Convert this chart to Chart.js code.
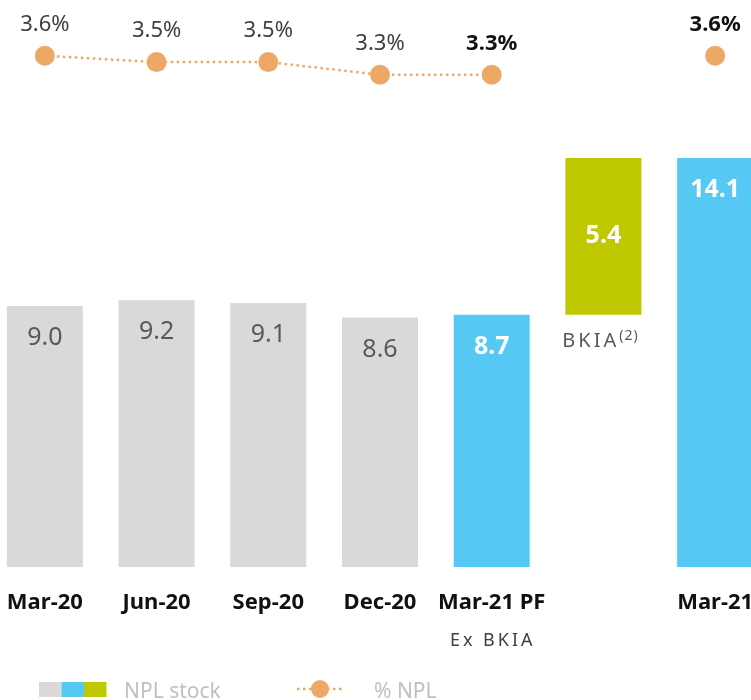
<!DOCTYPE html>
<html>
<head>
<meta charset="utf-8">
<script src="https://cdn.jsdelivr.net/npm/chart.js@4.4.1/dist/chart.umd.min.js"></script>
<style>
html, body { margin: 0; padding: 0; background: #fff; overflow: hidden; }
#wrap { position: relative; width: 782px; height: 700px; margin-left: -11px; }
</style>
</head>
<body>
<div id="wrap"><canvas id="grafica" width="782" height="700"></canvas></div>
<script>
// DATOS
const categorias = ['Mar-20', 'Jun-20', 'Sep-20', 'Dec-20', 'Mar-21 PF', '', 'Mar-21'];
const stockNPL = [9.0, 9.2, 9.1, 8.6, 8.7, 5.4, 14.1];          // bn
const ratioNPL = [3.6, 3.5, 3.5, 3.3, 3.3, null, 3.6];           // %
const ratioNegrita = [false, false, false, false, true, false, true];

// la barra de BKIA flota encima del Mar-21 PF
const barrasFlotantes = stockNPL.map((v, i) => i === 5 ? [stockNPL[4], stockNPL[4] + v] : [0, v]);

const GRIS = '#d9d9d9';
const AZUL = '#55c8f3';
const VERDE = '#bfc800';
const NARANJA = '#eda865';
const coloresBarras = [GRIS, GRIS, GRIS, GRIS, AZUL, VERDE, AZUL];
const FUENTE = '"Noto Sans", "Open Sans", sans-serif';

// ETIQUETAS DE VALORES, NOTAS Y LEYENDA
const etiquetas = {
    id: 'etiquetas',
    afterDatasetsDraw(chart) {
        const ctx = chart.ctx;
        ctx.save();
        ctx.textAlign = 'center';
        ctx.textBaseline = 'middle';

        // valores dentro de las barras
        chart.getDatasetMeta(0).data.forEach((bar, i) => {
            const color = coloresBarras[i];
            if (color === GRIS) {
                ctx.font = '25px ' + FUENTE;
                ctx.fillStyle = '#595959';
            } else {
                ctx.font = 'bold 25px ' + FUENTE;
                ctx.fillStyle = '#ffffff';
            }
            const y = color === VERDE ? (bar.y + bar.base) / 2 : bar.y + 32;
            ctx.fillText(stockNPL[i].toFixed(1), bar.x, y);
        });

        // porcentajes encima de los puntos
        chart.getDatasetMeta(1).data.forEach((pt, i) => {
            if (ratioNPL[i] === null) return;
            ctx.font = (ratioNegrita[i] ? 'bold ' : '') + '22px ' + FUENTE;
            ctx.fillStyle = ratioNegrita[i] ? '#111111' : '#404040';
            ctx.fillText(ratioNPL[i].toFixed(1) + '%', pt.x, pt.y - 31);
        });

        // notas debajo de Mar-21 PF y de la barra BKIA
        const x = chart.scales.x;
        ctx.letterSpacing = '3px';
        ctx.font = '18px ' + FUENTE;
        ctx.fillStyle = '#404040';
        ctx.fillText('Ex BKIA', x.getPixelForValue(4) + 1, 641);

        const bkia = chart.getDatasetMeta(0).data[5];
        ctx.letterSpacing = '3px';
        ctx.font = '20px ' + FUENTE;
        ctx.fillStyle = '#595959';
        const w1 = ctx.measureText('BKIA').width;
        ctx.font = '14px ' + FUENTE;
        const w2 = ctx.measureText('(2)').width;
        const x0 = bkia.x - (w1 + w2) / 2;
        ctx.textAlign = 'left';
        ctx.font = '20px ' + FUENTE;
        ctx.fillText('BKIA', x0, bkia.base + 27);
        ctx.font = '14px ' + FUENTE;
        ctx.letterSpacing = '1px';
        ctx.fillText('(2)', x0 + w1, bkia.base + 21);

        // leyenda
        ctx.letterSpacing = '0px';
        ctx.textBaseline = 'alphabetic';
        [GRIS, AZUL, VERDE].forEach((c, i) => {
            ctx.fillStyle = c;
            ctx.fillRect(50 + i * 22.5, 682, 22.5, 15);
        });
        ctx.font = '21px ' + FUENTE;
        ctx.fillStyle = '#c0c0c0';
        ctx.fillText('NPL stock', 135, 698);

        ctx.strokeStyle = NARANJA;
        ctx.lineWidth = 2.5;
        ctx.setLineDash([2.5, 3.5]);
        ctx.beginPath();
        ctx.moveTo(308, 689);
        ctx.lineTo(354, 689);
        ctx.stroke();
        ctx.setLineDash([]);
        ctx.fillStyle = NARANJA;
        ctx.beginPath();
        ctx.arc(331, 689, 9, 0, Math.PI * 2);
        ctx.fill();
        ctx.fillStyle = '#c0c0c0';
        ctx.fillText('% NPL', 385, 698);

        ctx.restore();
    }
};

const ctx = document.getElementById('grafica').getContext('2d');
window.myChart = new Chart(ctx, {
    data: {
        labels: categorias,
        datasets: [{
            type: 'bar',
            data: barrasFlotantes,
            backgroundColor: coloresBarras,
            borderWidth: 0,
            categoryPercentage: 1,
            barPercentage: 0.68,
            yAxisID: 'y',
            order: 2
        }, {
            type: 'line',
            data: ratioNPL,
            borderColor: NARANJA,
            borderWidth: 2.5,
            borderDash: [2.5, 3.5],
            pointRadius: 10,
            pointBackgroundColor: NARANJA,
            pointBorderWidth: 0,
            spanGaps: false,
            tension: 0,
            clip: false,
            yAxisID: 'y2',
            order: 1
        }]
    },
    options: {
        responsive: false,
        animation: false,
        devicePixelRatio: 1,
        layout: { padding: 0, autoPadding: false },
        plugins: {
            legend: { display: false },
            tooltip: { enabled: false }
        },
        scales: {
            x: {
                grid: { display: false, drawTicks: false },
                border: { display: false },
                ticks: {
                    color: '#111111',
                    font: { family: FUENTE, size: 22, weight: 'bold' },
                    padding: 23,
                    autoSkip: false,
                    maxRotation: 0
                },
                afterFit(scale) {
                    // sin margen lateral: las barras llegan al borde
                    scale.height = 133;
                    scale.paddingLeft = 0;
                    scale.paddingRight = 0;
                }
            },
            y: {
                display: false,
                min: 0,
                max: 19.55
            },
            y2: {
                display: false,
                min: -4.47,
                max: 4.48
            }
        }
    },
    plugins: [etiquetas]
});
</script>
</body>
</html>
